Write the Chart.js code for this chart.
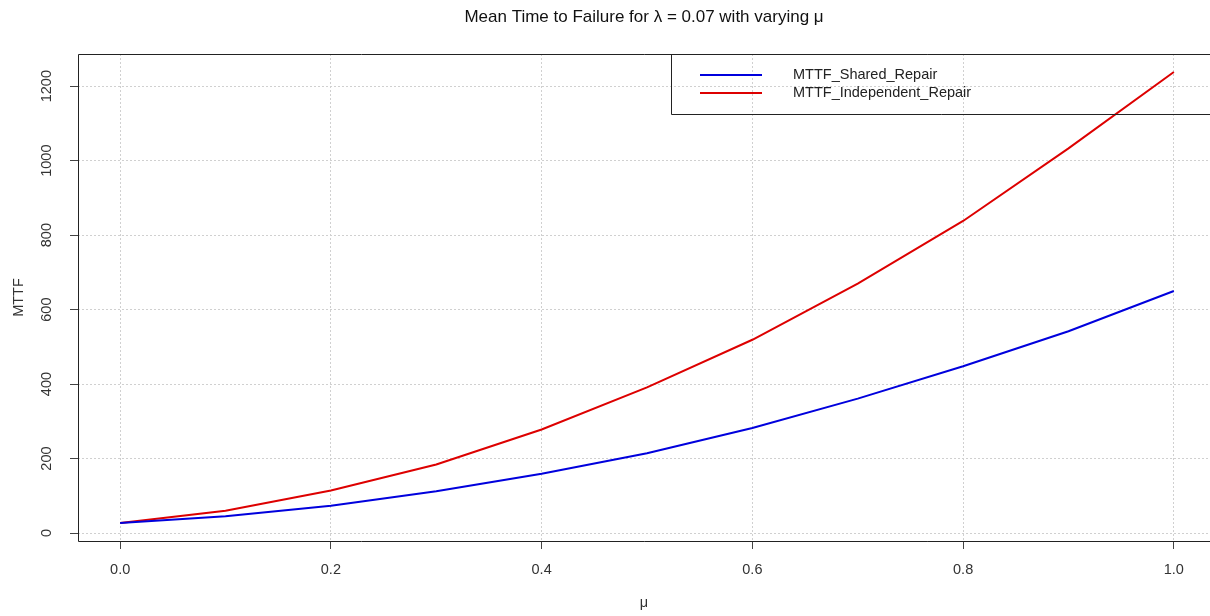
<!DOCTYPE html>
<html>
<head>
<meta charset="utf-8">
<title>MTTF chart</title>
<script src="https://cdn.jsdelivr.net/npm/chart.js@4/dist/chart.umd.min.js"></script>
<style>
    html, body { margin: 0; padding: 0; background: #ffffff; overflow: hidden; }
    #wrap { width: 1210px; height: 616px; }
</style>
</head>
<body>
<div id="wrap"><canvas id="mttfChart" width="1210" height="616"></canvas></div>
<script>

// --------------------------------------------
// Data
// --------------------------------------------

const muValues = [0.0, 0.1, 0.2, 0.3, 0.4, 0.5, 0.6, 0.7, 0.8, 0.9, 1.0];

const sharedRepair = [27, 45, 73, 112, 159, 214, 282, 361, 448, 542, 650];

const independentRepair = [27, 60, 114, 184, 278, 391, 519, 670, 838, 1033, 1238];

const seriesNames = ["MTTF_Shared_Repair", "MTTF_Independent_Repair"];

const seriesColors = ["#0000dd", "#dd0000"];

const xTickValues = [0.0, 0.2, 0.4, 0.6, 0.8, 1.0];

const yTickValues = [0, 200, 400, 600, 800, 1000, 1200];


// --------------------------------------------
// Axis ranges, padded 4% like R does
// --------------------------------------------

function paddedRange(values) {

    const lo = Math.min(...values);
    const hi = Math.max(...values);
    const pad = (hi - lo) * 0.04;

    return [lo - pad, hi + pad];

}

const xRange = paddedRange(muValues);

const yRange = paddedRange(sharedRepair.concat(independentRepair));

// the original image cuts the plot region a few pixels before its right edge
const visibleFraction = 1132 / 1138;

const xVisibleMax = xRange[0] + (xRange[1] - xRange[0]) * visibleFraction;


Chart.defaults.font.family = "'Liberation Sans', Arial, sans-serif";

Chart.defaults.color = "#222";


// --------------------------------------------
// Plot box + legend (R style)
// --------------------------------------------

const boxAndLegend = {

    id: "boxAndLegend",

    afterDraw(chart) {

        const ctx = chart.ctx;
        const area = chart.chartArea;

        const left = Math.round(area.left) + 0.5;
        const top = Math.round(area.top) + 0.5;
        const bottom = Math.round(area.bottom) + 0.5;

        ctx.save();

        ctx.strokeStyle = "#222";
        ctx.lineWidth = 1;

        // top, left, bottom of the box (right side is cropped away)
        ctx.beginPath();
        ctx.moveTo(chart.width + 2, top);
        ctx.lineTo(left, top);
        ctx.lineTo(left, bottom);
        ctx.lineTo(chart.width + 2, bottom);
        ctx.stroke();

        // legend box, no fill
        const legLeft = 671.5;
        const legBottom = 114.5;

        ctx.beginPath();
        ctx.moveTo(chart.width + 2, legBottom);
        ctx.lineTo(legLeft, legBottom);
        ctx.lineTo(legLeft, top);
        ctx.stroke();

        const rows = [75, 93];

        ctx.font = "14.5px 'Liberation Sans', Arial, sans-serif";
        ctx.textBaseline = "middle";
        ctx.textAlign = "left";

        chart.data.datasets.forEach((ds, i) => {

            ctx.strokeStyle = ds.borderColor;
            ctx.lineWidth = 2;
            ctx.beginPath();
            ctx.moveTo(700, rows[i]);
            ctx.lineTo(762, rows[i]);
            ctx.stroke();

            ctx.fillStyle = "#222";
            ctx.fillText(ds.label, 793, rows[i]);

        });

        ctx.restore();

    }

};


// --------------------------------------------
// Chart
// --------------------------------------------

const gridStyle = {

    color: "#d0d0d0",
    lineWidth: 1,
    drawTicks: true,
    tickLength: 8,
    tickColor: "#444",
    tickWidth: 1

};

new Chart(

    document.getElementById("mttfChart"),

    {

        type: "line",

        data: {

            datasets: [

                {
                    label: seriesNames[0],
                    data: muValues.map((m, i) => ({ x: m, y: sharedRepair[i] })),
                    borderColor: seriesColors[0],
                    borderWidth: 2,
                    pointRadius: 0,
                    tension: 0,
                    fill: false
                },

                {
                    label: seriesNames[1],
                    data: muValues.map((m, i) => ({ x: m, y: independentRepair[i] })),
                    borderColor: seriesColors[1],
                    borderWidth: 2,
                    pointRadius: 0,
                    tension: 0,
                    fill: false
                }

            ]

        },

        options: {

            responsive: false,
            animation: false,
            devicePixelRatio: 1,

            layout: { padding: 0 },

            plugins: {

                legend: { display: false },

                tooltip: { enabled: false },

                title: {
                    display: true,
                    fullSize: false,
                    text: "Mean Time to Failure for \u03bb = 0.07 with varying \u03bc",
                    color: "#111",
                    font: { size: 17, weight: "normal" },
                    padding: { top: 7.6, bottom: 26 }
                }

            },

            scales: {

                x: {

                    type: "linear",
                    min: xRange[0],
                    max: xVisibleMax,

                    afterBuildTicks(scale) {
                        scale.ticks = xTickValues.map(v => ({ value: v }));
                    },

                    afterFit(scale) {
                        scale.height = 75;
                    },

                    ticks: {
                        color: "#333",
                        font: { size: 14.5 },
                        padding: 12,
                        maxRotation: 0,
                        callback: v => v.toFixed(1)
                    },

                    grid: gridStyle,

                    border: { display: false, dash: [2, 2] },

                    title: {
                        display: true,
                        text: "\u03bc",
                        color: "#333",
                        font: { size: 14.5 },
                        padding: { top: 0, bottom: 4 }
                    }

                },

                y: {

                    type: "linear",
                    min: yRange[0],
                    max: yRange[1],

                    afterBuildTicks(scale) {
                        scale.ticks = yTickValues.map(v => ({ value: v }));
                    },

                    afterFit(scale) {
                        scale.width = 78;
                    },

                    ticks: {
                        color: "#333",
                        font: { size: 14.5 },
                        padding: 7,
                        minRotation: 90,
                        maxRotation: 90,
                        crossAlign: "center",
                        callback: v => String(v)
                    },

                    grid: gridStyle,

                    border: { display: false, dash: [2, 2] },

                    title: {
                        display: true,
                        text: "MTTF",
                        color: "#333",
                        font: { size: 14.5 },
                        padding: { top: 10, bottom: 0 }
                    }

                }

            }

        },

        plugins: [boxAndLegend]

    }

);

</script>
</body>
</html>
